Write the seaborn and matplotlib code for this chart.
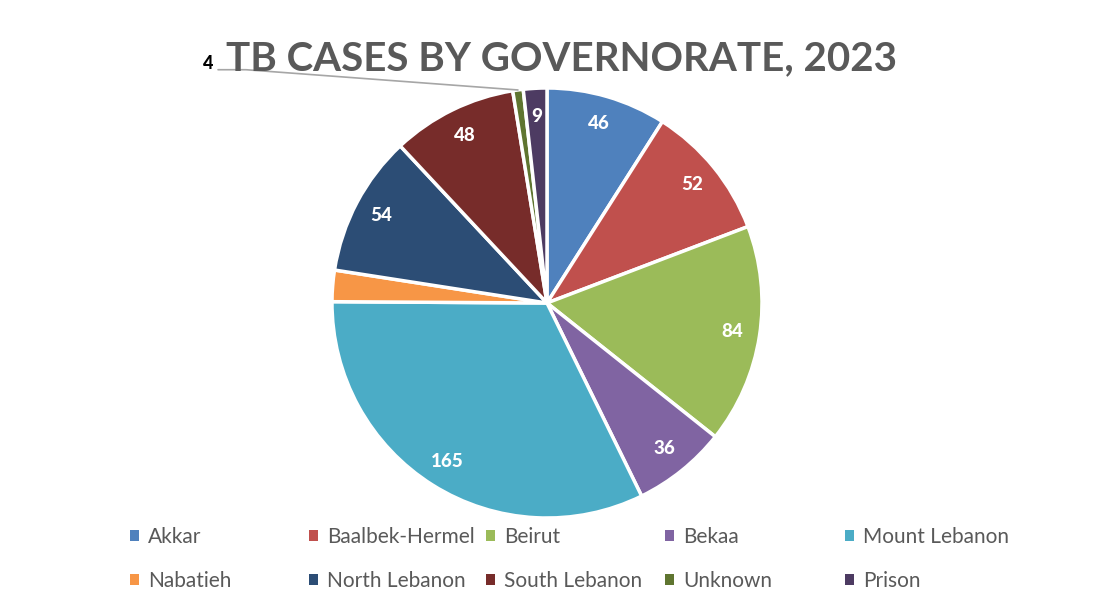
import matplotlib
matplotlib.use("Agg")
import matplotlib.pyplot as plt
import numpy as np
import seaborn as sns
from matplotlib.lines import Line2D
from matplotlib.patches import Patch

categories = ["Akkar", "Baalbek-Hermel", "Beirut", "Bekaa", "Mount Lebanon",
              "Nabatieh", "North Lebanon", "South Lebanon", "Unknown", "Prison"]
values = [46, 52, 84, 36, 165, 12, 54, 48, 4, 9]
show_label = [True, True, True, True, True, False, True, True, False, True]
colors_hex = ["#4F81BD", "#C0504D", "#9BBB59", "#8064A2", "#4BACC6",
              "#F79646", "#2C4D75", "#772C2A", "#5F7530", "#4D3B62"]
title = "TB CASES BY GOVERNORATE, 2023"

sns.set_theme(style="white")
plt.rcParams["font.family"] = ["Lato", "DejaVu Sans"]
palette = sns.color_palette(colors_hex)

fig = plt.figure(figsize=(11.09, 6.13), dpi=100)
fig.patch.set_facecolor("white")
ax = fig.add_axes([(547 - 215) / 1109, (613 - 303 - 215) / 613, 430 / 1109, 430 / 613])

wedges, texts = ax.pie(values, colors=palette, startangle=90, counterclock=False,
                       wedgeprops=dict(edgecolor="white", linewidth=2.5),
                       labels=[str(v) if s else "" for v, s in zip(values, show_label)],
                       labeldistance=0.87,
                       textprops=dict(color="white", fontsize=13.5, ha="center", va="center"))
for t in texts:
    t.set_ha("center")
    t.set_fontweight(900)
ax.set_xlim(-1, 1)
ax.set_ylim(-1, 1)
ax.set_aspect("equal")

# outside label for "Unknown"
w = wedges[categories.index("Unknown")]
ang = np.deg2rad((w.theta1 + w.theta2) / 2)
px, py = np.cos(ang), np.sin(ang)
ax.add_line(Line2D([-1.53, -1.40, px], [1.085, 1.085, py], color="#A6A6A6", lw=1.2, clip_on=False))
ax.text(-1.575, 1.115, str(values[categories.index("Unknown")]), color="black", fontsize=13,
        fontweight=900, ha="center", va="center", clip_on=False)

fig.text(0.506, 0.905, title, ha="center", va="center", fontsize=29, fontweight="bold", color="#595959")

# legend: five columns at regular spacing, two rows
ncol = 5
col_x = [130, 309, 486, 665, 845]
for c in range(ncol):
    idx = [c, c + ncol]
    handles = [Patch(facecolor=palette[i], edgecolor="none") for i in idx]
    labels = [categories[i] for i in idx]
    fig.legend(handles, labels, loc="upper left",
               bbox_to_anchor=(col_x[c] / 1109, 1 - 527 / 613),
               frameon=False, fontsize=15, handlelength=0.42, handleheight=0.42,
               handletextpad=0.45, labelspacing=1.15, borderpad=0, borderaxespad=0,
               labelcolor="#595959")

fig.savefig("out.png", dpi=100, facecolor="white")
